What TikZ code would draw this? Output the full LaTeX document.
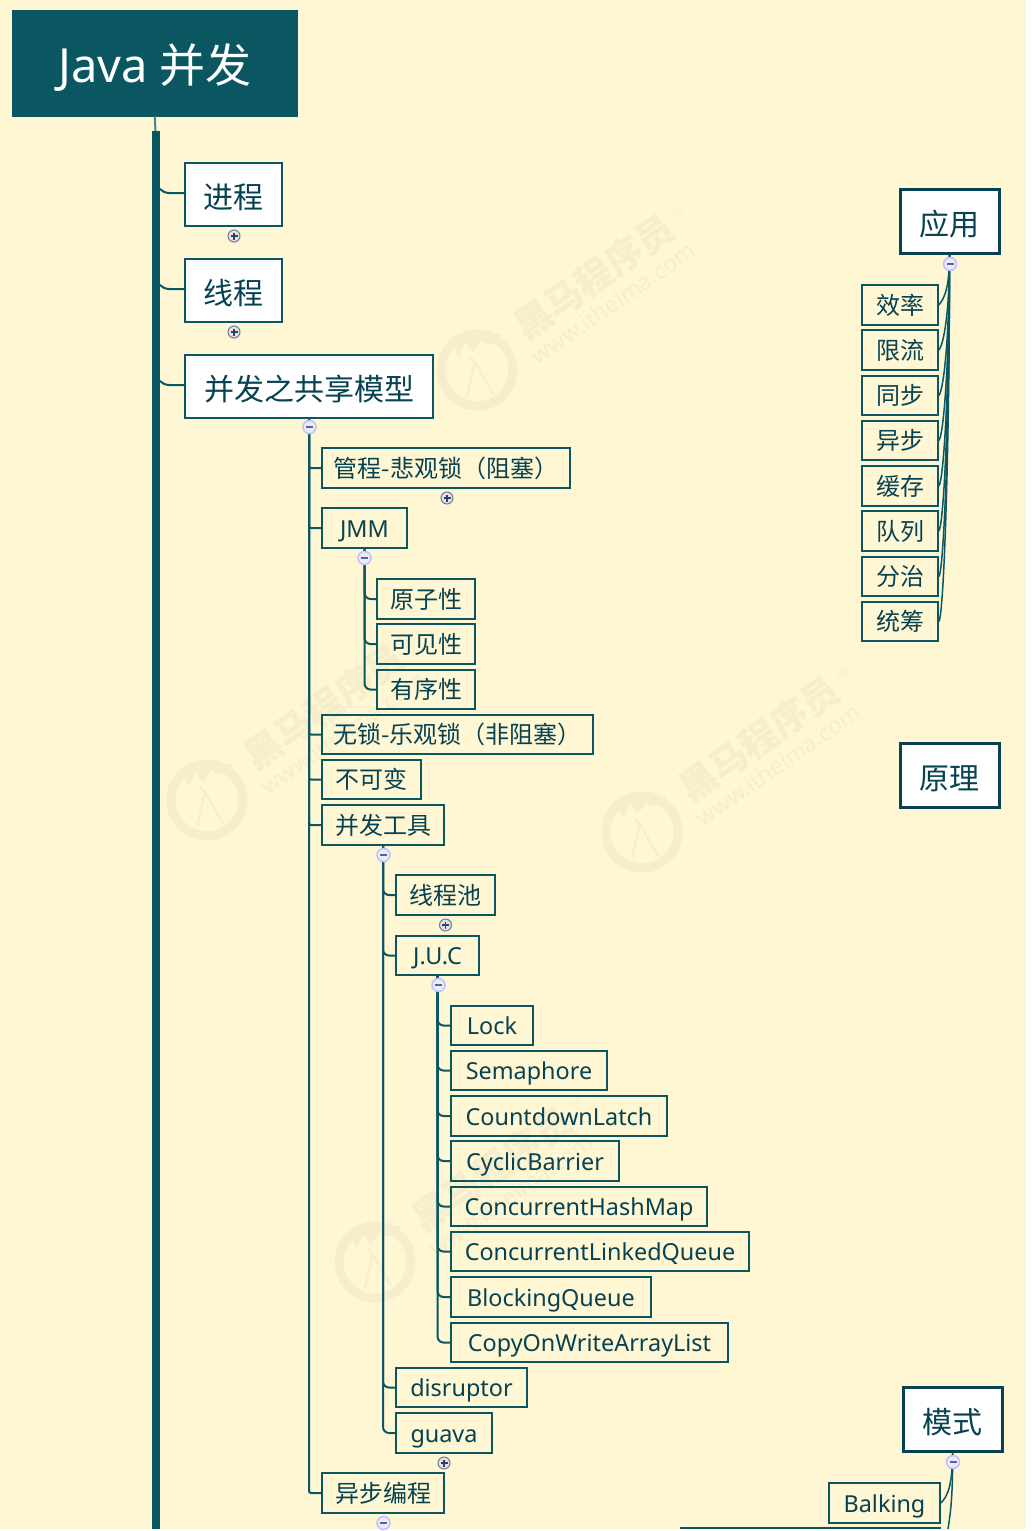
\documentclass[tikz,border=0pt]{standalone}
\usepackage{fontspec}
\setmainfont{Noto Sans}
\newfontfamily\cjk{Noto Sans CJK SC}
\usetikzlibrary{positioning}
\definecolor{fond}{RGB}{255,246,211}
\definecolor{canard}{RGB}{10,87,98}
\definecolor{encre}{RGB}{6,66,82}
\definecolor{filigrane}{RGB}{246,237,205}
\definecolor{signe}{RGB}{52,62,105}
\tikzset{
  titre/.style={draw=canard,fill=canard,text=white,minimum width=285pt,minimum height=106pt,text height=38pt,text depth=0pt,font=\fontsize{45}{45}\selectfont},
  branche/.style={draw=canard,line width=1.6pt,fill=white,text=encre,minimum height=63pt,inner ysep=0pt,text height=30pt,text depth=3pt,font=\cjk\fontsize{30}{30}\selectfont},
  racine/.style={draw=encre,line width=3pt,fill=white,text=encre,minimum width=99pt,minimum height=64pt,inner ysep=0pt,text height=31pt,text depth=2pt,font=\cjk\fontsize{30}{30}\selectfont},
  feuille/.style={draw=canard,line width=1.6pt,text=encre,minimum height=39.5pt,inner ysep=0pt,text height=21.5pt,text depth=3.5pt,font=\fontsize{23.4}{24}\selectfont},
  feuillec/.style={feuille,font=\cjk\fontsize{24}{24}\selectfont},
  lien/.style={draw=canard,line width=2pt},
  plusb/.style={circle,draw=signe!70,fill=white!85!signe,line width=1pt,minimum size=12pt,inner sep=0pt,
    path picture={\draw[signe,line width=1.5pt] ([xshift=-3.5pt]path picture bounding box.center)--([xshift=3.5pt]path picture bounding box.center)
      ([yshift=-3.5pt]path picture bounding box.center)--([yshift=3.5pt]path picture bounding box.center);}},
  moinsb/.style={circle,draw=blue!25!white,fill=blue!8!white,line width=1.5pt,minimum size=13pt,inner sep=0pt,
    path picture={\draw[signe!80,line width=1.5pt] ([xshift=-3.5pt]path picture bounding box.center)--([xshift=3.5pt]path picture bounding box.center);}},
}
\begin{document}
\begin{tikzpicture}[x=1pt,y=-1pt]%
\useasboundingbox (0,0) rectangle (1031,1531);%%
\fill[fond] (0,0) rectangle (1026,1529);%%
%%FILIGRANE
\foreach \wx/\wy/\wn in {477/370/a,207/800/b,642/832/c,375/1262/d}{%
  \begin{scope}[shift={(\wx,\wy)}]%%
    \draw[filigrane,line width=9pt] (0,0) circle (36);%%
    \draw[filigrane,line width=2pt] (-10,26)--(-2,-8)--(16,24) (-2,-8)--(-8,-14);%%
    \fill[filigrane] (-34,-14)--(-24,-24)--(-18,-14)--(-12,-28)--(-4,-18)--(4,-30)--(10,-26)--(24,-28)--(24,-36)--(-20,-36)--cycle;%%
    \node[filigrane,rotate=35,font=\cjk\bfseries\fontsize{37}{37}\selectfont] (mq\wn) at (117,-93) {黑马程序员}; %%
    \node[filigrane,rotate=35,font=\fontsize{23}{23}\selectfont] (ww\wn) at (136,-67) {www.itheima.com}; %%
    \node[filigrane,rotate=35,font=\fontsize{9}{9}\selectfont] (tm\wn) at (200,-158) {TM}; %%
  \end{scope}%%
}%
%%TITRE
\node[titre] (java) at (154.8,63.3) {{\fontsize{47}{47}\selectfont Java}\ {\cjk\fontsize{46}{46}\selectfont 并发}}; %%
\coordinate (tronc) at (155.5,131); %%
\coordinate (basTronc) at (155.5,1529); %%
%%NIVEAU 1
\node[branche,minimum width=97pt] (jc) at (233.5,194.5) {进程}; %%
\node[branche,minimum width=97pt] (xc) at (233.5,290.5) {线程}; %%
\node[branche,minimum width=248pt] (gx) at (309,386.5) {并发之共享模型}; %%
%%NIVEAU 2
\node[feuillec,minimum width=248pt] (gc) at (446,468) {管程-悲观锁（阻塞）}; %%
\node[feuille,minimum width=85pt] (jmm) at (364.5,528) {JMM}; %%
\node[feuillec,minimum width=98pt] (yz) at (426,599) {原子性}; %%
\node[feuillec,minimum width=98pt] (kj) at (426,644) {可见性}; %%
\node[feuillec,minimum width=98pt] (yx) at (426,689.5) {有序性}; %%
\node[feuillec,minimum width=271pt] (ws) at (457.5,734.5) {无锁-乐观锁（非阻塞）}; %%
\node[feuillec,minimum width=99pt] (bk) at (371.5,779.5) {不可变}; %%
\node[feuillec,minimum width=122pt] (gj) at (383,825) {并发工具}; %%
\node[feuillec,minimum width=99pt] (xcc) at (445.5,895) {线程池}; %%
\node[feuille,minimum width=83pt] (juc) at (437.5,955.5) {J.U.C}; %%
\node[feuille,minimum width=82pt] (lock) at (492,1025.5) {Lock}; %%
\node[feuille,minimum width=156pt] (sem) at (529,1070.5) {Semaphore}; %%
\node[feuille,minimum width=216pt] (cdl) at (559,1116) {CountdownLatch}; %%
\node[feuille,minimum width=168pt] (cyc) at (535,1161) {CyclicBarrier}; %%
\node[feuille,minimum width=256pt] (chm) at (579,1206.5) {ConcurrentHashMap}; %%
\node[feuille,minimum width=298pt] (clq) at (600,1251.5) {ConcurrentLinkedQueue}; %%
\node[feuille,minimum width=200pt] (blq) at (551,1297) {BlockingQueue}; %%
\node[feuille,minimum width=277pt] (cow) at (589.5,1342.5) {CopyOnWriteArrayList}; %%
\node[feuille,minimum width=131pt] (dis) at (461.5,1387.5) {disruptor}; %%
\node[feuille,minimum width=96pt] (gua) at (444,1433) {guava}; %%
\node[feuillec,minimum width=122pt] (yb) at (383,1493) {异步编程}; %%
%%DROITE
\node[racine] (yy) at (949.5,221) {应用}; %%
\node[racine] (yl) at (949.5,775) {原理}; %%
\node[racine] (ms) at (952.5,1419) {模式}; %%
\node[feuille,minimum width=111pt] (bal) at (884.5,1503) {Balking}; %%
\coordinate (suite) at (680,1528); %%
\coordinate (suiteFin) at (941,1528); %%
\coordinate (basms) at (948,1529); %%
\draw[lien] (suite)--(suiteFin); %%
\foreach \nom/\ty/\lab in {xl/305/效率,xa/350/限流,tb/395.5/同步,yt/440.5/异步,hc/486/缓存,dl/531/队列,fz/576.5/分治,tc/621.5/统筹}{%
  \node[feuillec,minimum width=76pt] (\nom) at (900,\ty) {\lab}; %%
  \pgfmathsetmacro{\ymid}{(272+\ty)/2}%
  \pgfmathsetmacro{\yfin}{\ty-6}%
  \draw[lien,line width=1.5pt] (yy.south) .. controls (949.5,\ymid) and (944,\yfin) .. (\nom.east); %%
}%
\draw[lien,line width=1.5pt] (ms.south) .. controls (952.5,1487) and (947,1497) .. (bal.east); %%
\draw[lien,line width=1.5pt] (ms.south) .. controls (953,1500) and (950,1515) .. (basms); %%
%%LIENS
\draw[lien,canard!75] (java.south)--(tronc); %%
\foreach \f in {jc,xc,gx}{\draw[lien,rounded corners=14pt] ([yshift=1.5pt]\f.west) -| (tronc);} %%
\draw[canard,line width=8pt] (tronc)--(basTronc); %%
\foreach \f in {gc,jmm,ws,bk,gj,yb}{\draw[lien,rounded corners=2pt] (\f.west) -| (gx.south);} %%
\foreach \f in {yz,kj,yx}{\draw[lien,rounded corners=6pt] (\f.west) -| (jmm.south);} %%
\foreach \f in {xcc,juc,dis,gua}{\draw[lien,rounded corners=6pt] (\f.west) -| (gj.south);} %%
\foreach \f in {lock,sem,cdl,cyc,chm,clq,blq,cow}{\draw[lien,rounded corners=6pt] (\f.west) -| (juc.south);} %%
%%BOUTONS
\node[plusb] (pjc) at (234,236) {}; %%
\node[plusb] (pxc) at (234,332) {}; %%
\node[plusb] (pgc) at (447,498) {}; %%
\node[plusb] (pxcc) at (445.5,925) {}; %%
\node[plusb] (pgua) at (444,1463) {}; %%
\node[moinsb] (mgx) at (309.5,427) {}; %%
\node[moinsb] (mjmm) at (364.5,558) {}; %%
\node[moinsb] (mgj) at (383.5,855) {}; %%
\node[moinsb] (mjuc) at (438.5,985) {}; %%
\node[moinsb] (myb) at (383.5,1523) {}; %%
\node[moinsb] (myy) at (950,264) {}; %%
\node[moinsb] (mms) at (953,1462) {}; %%
\end{tikzpicture}
\end{document}
